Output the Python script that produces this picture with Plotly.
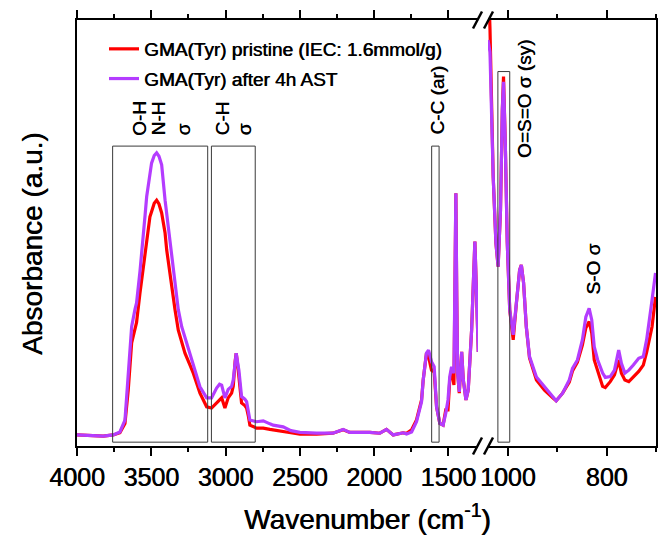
import plotly.graph_objects as go

# ---- spectrum data (absorbance, arbitrary units) ----
# high-wavenumber segment, 4000-1300 cm-1
wn_hi = [4000, 3912, 3823, 3756, 3711, 3677, 3655, 3632, 3610, 3599, 3576, 3565, 3542, 3531,
         3509, 3498, 3480, 3464, 3448, 3430, 3407, 3396, 3373, 3363, 3340, 3318, 3295, 3273,
         3239, 3217, 3172, 3127, 3094, 3060, 3040, 3026, 3004, 2982, 2959, 2948, 2935, 2928,
         2918, 2910, 2892, 2870, 2858, 2846, 2836, 2791, 2746, 2701, 2679, 2612, 2560, 2499,
         2387, 2277, 2208, 2163, 2028, 1961, 1916, 1871, 1804, 1781, 1747, 1714, 1680, 1669,
         1647, 1633, 1613, 1595, 1579, 1557, 1535, 1517, 1502, 1490, 1478, 1462, 1455, 1449,
         1443, 1437, 1426, 1410, 1399, 1381, 1366, 1343, 1321, 1305, 1298]
pristine_hi = [0.026, 0.024, 0.023, 0.026, 0.031, 0.053, 0.131, 0.242, 0.272, 0.290, 0.359, 0.390,
               0.453, 0.480, 0.538, 0.550, 0.570, 0.577, 0.568, 0.547, 0.500, 0.460, 0.400, 0.366,
               0.320, 0.272, 0.245, 0.218, 0.190, 0.171, 0.124, 0.092, 0.089, 0.101, 0.110, 0.113,
               0.089, 0.113, 0.124, 0.140, 0.200, 0.218, 0.190, 0.160, 0.101, 0.095, 0.089, 0.070,
               0.049, 0.042, 0.042, 0.039, 0.038, 0.034, 0.031, 0.028, 0.028, 0.030, 0.038, 0.032,
               0.032, 0.030, 0.039, 0.026, 0.031, 0.030, 0.038, 0.061, 0.108, 0.155, 0.218, 0.210,
               0.178, 0.174, 0.092, 0.053, 0.049, 0.085, 0.085, 0.155, 0.178, 0.143, 0.350, 0.593,
               0.350, 0.171, 0.124, 0.221, 0.155, 0.108, 0.131, 0.272, 0.480, 0.272, 0.221]
ast_hi = [0.026, 0.024, 0.023, 0.026, 0.033, 0.061, 0.171, 0.280, 0.320, 0.336, 0.410, 0.460,
          0.540, 0.585, 0.640, 0.664, 0.682, 0.688, 0.680, 0.660, 0.577, 0.545, 0.468, 0.440,
          0.374, 0.320, 0.280, 0.255, 0.210, 0.190, 0.139, 0.113, 0.113, 0.136, 0.145, 0.143,
          0.113, 0.133, 0.140, 0.155, 0.205, 0.218, 0.195, 0.178, 0.116, 0.110, 0.104, 0.085,
          0.061, 0.057, 0.059, 0.052, 0.049, 0.045, 0.036, 0.032, 0.030, 0.030, 0.039, 0.032,
          0.032, 0.030, 0.039, 0.026, 0.031, 0.028, 0.033, 0.057, 0.104, 0.155, 0.218, 0.225,
          0.198, 0.186, 0.092, 0.053, 0.049, 0.077, 0.108, 0.163, 0.186, 0.171, 0.350, 0.593,
          0.350, 0.171, 0.127, 0.221, 0.155, 0.108, 0.131, 0.272, 0.480, 0.272, 0.221]

# fingerprint segment, 1040-700 cm-1
wn_lo = [1040, 1036, 1029.5, 1024, 1019.5, 1014.7, 1011, 1008.6, 1005, 1001, 996, 989, 982.5,
         976, 972.5, 968, 962.5, 956, 942, 925.7, 909, 902, 889, 875.5, 869, 859, 849, 842,
         835.3, 830, 825, 818, 808, 802.6, 792.6, 784, 775.5, 770, 763, 755, 745.8, 735,
         725.7, 719, 708, 701]
pristine_lo = [1.120, 0.980, 0.632, 0.477, 0.421, 0.554, 0.789, 0.867, 0.711, 0.477, 0.319, 0.249,
               0.336, 0.413, 0.425, 0.383, 0.280, 0.207, 0.155, 0.131, 0.113, 0.106, 0.124, 0.150,
               0.176, 0.197, 0.237, 0.277, 0.292, 0.265, 0.202, 0.174, 0.140, 0.137, 0.151, 0.167,
               0.202, 0.171, 0.155, 0.151, 0.163, 0.175, 0.190, 0.220, 0.280, 0.350]
ast_lo = [0.953, 0.925, 0.632, 0.477, 0.421, 0.554, 0.789, 0.855, 0.711, 0.477, 0.319, 0.261,
          0.336, 0.413, 0.425, 0.383, 0.280, 0.210, 0.162, 0.139, 0.113, 0.106, 0.124, 0.155,
          0.182, 0.202, 0.249, 0.303, 0.323, 0.296, 0.233, 0.202, 0.171, 0.161, 0.163, 0.178,
          0.225, 0.194, 0.171, 0.178, 0.190, 0.206, 0.210, 0.249, 0.343, 0.406]

series_names = ["GMA(Tyr) pristine (IEC: 1.6mmol/g)", "GMA(Tyr) after 4h AST"]
series_colors = ["#FF0000", "#B43CFF"]

# band assignment boxes: (axis, wn_start, wn_end, top)
bands = [("x", 3760, 3120, 0.704), ("x", 3095, 2800, 0.704),
         ("x", 1612, 1562, 0.704), ("x2", 1020, 996, 0.879)]
# band labels: (axis, wavenumber, bottom, text)
band_labels = [("x", 3583, 0.724, "O-H"), ("x", 3448, 0.724, "N-H"), ("x", 3280, 0.724, "σ"),
               ("x", 3017, 0.724, "C-H"), ("x", 2870, 0.724, "σ"),
               ("x", 1570, 0.727, "C-C (ar)"), ("x2", 966, 0.670, "O=S=O σ (sy)"),
               ("x2", 827, 0.350, "S-O σ")]

FONT = "Arial, Liberation Sans, sans-serif"
W, H = 658, 539
ML, MR, MT, MB = 77, 2, 20, 93
PW, PH = W - ML - MR, H - MT - MB
LEFT_END = 478   # px where the high-wavenumber segment stops
RIGHT_START = 488  # px where the fingerprint segment starts


def px_x(p):
    return (p - ML) / PW


def px_y(p):
    return (H - MB - p) / PH


def font(size):
    # slightly heavier strokes than the plain regular face
    return dict(family=FONT, size=size, color="black", shadow="0.6px 0 0 black")


fig = go.Figure()
for name, color, yh, yl in zip(series_names, series_colors,
                               [pristine_hi, ast_hi], [pristine_lo, ast_lo]):
    fig.add_trace(go.Scatter(x=wn_hi, y=yh, mode="lines", name=name,
                             line=dict(color=color, width=3.2), xaxis="x", yaxis="y",
                             legendgroup=name))
    fig.add_trace(go.Scatter(x=wn_lo, y=yl, mode="lines", name=name,
                             line=dict(color=color, width=3.2), xaxis="x2", yaxis="y2",
                             legendgroup=name, showlegend=False))

axis_common = dict(showline=True, linecolor="black", linewidth=2, ticks="outside",
                   tickwidth=2, ticklen=8, tickcolor="black", mirror="ticks",
                   showgrid=False, zeroline=False, tickfont=font(25))

fig.update_layout(
    width=W, height=H,
    margin=dict(l=ML, r=MR, t=MT, b=MB),
    paper_bgcolor="white", plot_bgcolor="white",
    xaxis=dict(domain=[0, px_x(LEFT_END)], range=[4000, 1300], anchor="y",
               tickmode="linear", tick0=0, dtick=500,
               minor=dict(dtick=250, ticklen=4, tickwidth=2, tickcolor="black", ticks="outside"),
               **axis_common),
    xaxis2=dict(domain=[px_x(RIGHT_START), 1], range=[1040, 700], anchor="y2",
                tickmode="linear", tick0=0, dtick=200,
                minor=dict(dtick=100, ticklen=4, tickwidth=2, tickcolor="black", ticks="outside"),
                **axis_common),
    yaxis=dict(domain=[0, 1], range=[0, 1], anchor="x", showline=True, linecolor="black",
               linewidth=2, showticklabels=False, ticks="", showgrid=False, zeroline=False),
    yaxis2=dict(domain=[0, 1], range=[0, 1], anchor="x2", matches="y", side="right",
                showline=True, linecolor="black", linewidth=2, showticklabels=False,
                ticks="", showgrid=False, zeroline=False),
    legend=dict(x=px_x(104), y=px_y(30), xanchor="left", yanchor="top",
                bgcolor="rgba(0,0,0,0)", font=font(19),
                tracegroupgap=2, itemwidth=30),
    showlegend=True,
)

shapes = []
for ax, x0, x1, top in bands:
    shapes.append(dict(type="rect", xref=ax, yref="y", x0=x0, x1=x1, y0=0.009, y1=top,
                       line=dict(color="#3a3a3a", width=1), fillcolor="rgba(0,0,0,0)"))
# axis break marks "//" on top and bottom
for base in (MT, H - MB):
    for off in (0, 11):
        shapes.append(dict(type="line", xref="paper", yref="paper",
                           x0=px_x(473 + off), y0=px_y(base + 8.5),
                           x1=px_x(482 + off), y1=px_y(base - 8.5),
                           line=dict(color="black", width=2.5)))
fig.update_layout(shapes=shapes)

annotations = []
for ax, wn, bottom, txt in band_labels:
    annotations.append(dict(xref=ax, yref="y", x=wn, y=bottom, text=txt, showarrow=False,
                            textangle=-90, xanchor="center", yanchor="bottom", font=font(19)))
annotations.append(dict(xref="paper", yref="paper", x=px_x(367), y=px_y(517),
                        text="Wavenumber (cm<sup>-1</sup>)", showarrow=False,
                        xanchor="center", yanchor="middle", font=font(28)))
annotations.append(dict(xref="paper", yref="paper", x=px_x(32), y=px_y(244),
                        text="Absorbance (a.u.)", showarrow=False, textangle=-90,
                        xanchor="center", yanchor="middle", font=font(28)))
fig.update_layout(annotations=annotations)

fig.write_html("out.html")
